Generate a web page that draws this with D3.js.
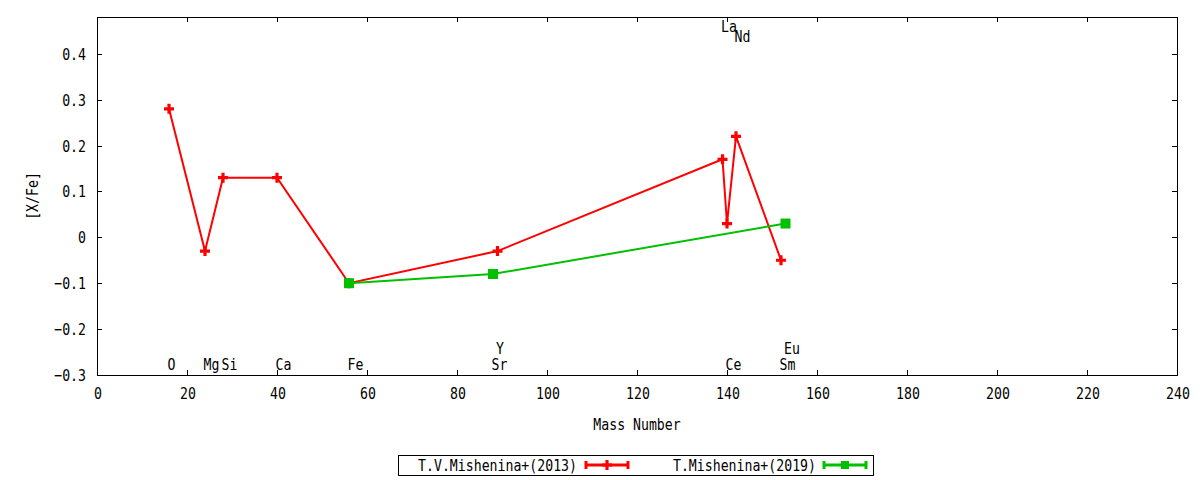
<!DOCTYPE html>
<html>
<head>
<meta charset="utf-8">
<script src="https://cdn.jsdelivr.net/npm/d3@7"></script>
<style>
  body { margin: 0; background: #fff; }
  svg { display: block; }
</style>
</head>
<body>
<div id="chart"></div>
<script>
// Mass numbers and [X/Fe] values, Mishenina+ (2013)
var elements2013 = ['O', 'Mg', 'Si', 'Ca', 'Fe', 'Y', 'La', 'Ce', 'Nd', 'Sm'];
var mass2013 = [16, 24, 28, 40, 56, 89, 139, 140, 142, 152];
var xfe2013 = [0.28, -0.03, 0.13, 0.13, -0.10, -0.03, 0.17, 0.03, 0.22, -0.05];

// Mishenina+ (2019)
var elements2019 = ['Fe', 'Sr', 'Eu'];
var mass2019 = [56, 88, 153];
var xfe2019 = [-0.10, -0.08, 0.03];

// element name labels (at their mass number)
var labelNames = ['O', 'Mg', 'Si', 'Ca', 'Fe', 'Sr', 'Y', 'La', 'Ce', 'Nd', 'Sm', 'Eu'];
var labelMass = [16, 24, 28, 40, 56, 88, 89, 139, 140, 142, 152, 153];
var labelY = [-0.275, -0.275, -0.275, -0.275, -0.275, -0.275, -0.242, 0.46, -0.275, 0.438, -0.275, -0.242];

var xTicks = [0, 20, 40, 60, 80, 100, 120, 140, 160, 180, 200, 220, 240];
var yTicks = [-0.3, -0.2, -0.1, 0, 0.1, 0.2, 0.3, 0.4];

var width = 1200, height = 480;
var margin = { left: 97, right: 23, top: 17, bottom: 105 };

var svg = d3.select('#chart').append('svg')
    .attr('width', width)
    .attr('height', height);

var x = d3.scaleLinear().domain([0, 240]).range([margin.left, width - margin.right]);
var y = d3.scaleLinear().domain([-0.3, 0.48]).range([height - margin.bottom, margin.top]);

var fontFamily = '"DejaVu Sans Mono", "Liberation Mono", monospace';

// gnuplot-like condensed mono text
function label(parent, px, py, str, anchor, rotate) {
    var g = parent.append('g')
        .attr('transform', 'translate(' + px + ',' + py + ')' + (rotate ? ' rotate(' + rotate + ')' : '') + ' scale(0.8,1)');
    g.append('text')
        .attr('text-anchor', anchor || 'start')
        .attr('font-family', fontFamily)
        .attr('font-size', '16.5px')
        .attr('fill', '#000')
        .text(str);
    return g;
}

// axes (ticks inward, mirrored)
var tickLen = 5;
var axes = svg.append('g').attr('stroke', '#000').attr('stroke-width', 1).attr('shape-rendering', 'crispEdges');
xTicks.forEach(function(t) {
    var px = Math.round(x(t)) + 0.5;
    axes.append('line').attr('x1', px).attr('x2', px).attr('y1', y.range()[0]).attr('y2', y.range()[0] - tickLen);
    axes.append('line').attr('x1', px).attr('x2', px).attr('y1', y.range()[1]).attr('y2', y.range()[1] + tickLen);
    label(svg, x(t) + 1, 399, d3.format('d')(t), 'middle');
});
yTicks.forEach(function(t) {
    var py = Math.round(y(t)) + 0.5;
    axes.append('line').attr('x1', x.range()[0]).attr('x2', x.range()[0] + tickLen).attr('y1', py).attr('y2', py);
    axes.append('line').attr('x1', x.range()[1]).attr('x2', x.range()[1] - tickLen).attr('y1', py).attr('y2', py);
    label(svg, 86, y(t) + 6, t === 0 ? '0' : d3.format('.1f')(t), 'end');
});
axes.append('rect')
    .attr('x', x.range()[0] + 0.5)
    .attr('y', y.range()[1] + 0.5)
    .attr('width', x.range()[1] - x.range()[0])
    .attr('height', y.range()[0] - y.range()[1])
    .attr('fill', 'none');

// axis titles
label(svg, (x.range()[0] + x.range()[1]) / 2, 430, 'Mass Number', 'middle');
label(svg, 38, (y.range()[0] + y.range()[1]) / 2, '[X/Fe]', 'middle', -90);

// element labels
labelNames.forEach(function(n, i) {
    label(svg, x(labelMass[i]) - 1.5, y(labelY[i]) + 6, n, 'start');
});

var colors = { s2013: '#ff0000', s2019: '#00c000' };

var line = d3.line()
    .x(function(d) { return x(d[0]); })
    .y(function(d) { return y(d[1]); });

var pts2013 = d3.zip(mass2013, xfe2013);
var pts2019 = d3.zip(mass2019, xfe2019);

svg.append('path').datum(pts2013)
    .attr('d', line).attr('fill', 'none')
    .attr('stroke', colors.s2013).attr('stroke-width', 2);
svg.append('path').datum(pts2019)
    .attr('d', line).attr('fill', 'none')
    .attr('stroke', colors.s2019).attr('stroke-width', 2);

function plus(parent, px, py, color) {
    parent.append('path')
        .attr('d', 'M' + (px - 5) + ',' + py + 'H' + (px + 5) + 'M' + px + ',' + (py - 5) + 'V' + (py + 5))
        .attr('stroke', color).attr('stroke-width', 3.2).attr('fill', 'none');
}
function square(parent, px, py, color, s) {
    parent.append('rect')
        .attr('x', px - s / 2).attr('y', py - s / 2)
        .attr('width', s).attr('height', s)
        .attr('fill', color);
}

pts2013.forEach(function(d) { plus(svg, x(d[0]), y(d[1]), colors.s2013); });
pts2019.forEach(function(d) { square(svg, x(d[0]), y(d[1]), colors.s2019, 10); });

// legend
var legend = svg.append('g');
legend.append('rect')
    .attr('x', 398.5).attr('y', 455.5).attr('width', 475).attr('height', 19.5)
    .attr('fill', 'none').attr('stroke', '#000').attr('stroke-width', 1)
    .attr('shape-rendering', 'crispEdges');

var legendItems = [
    { name: 'T.V.Mishenina+(2013)', color: colors.s2013, textX: 577, x0: 586, x1: 628, mark: 'plus' },
    { name: 'T.Mishenina+(2019)', color: colors.s2019, textX: 816, x0: 824, x1: 866, mark: 'square' }
];
legendItems.forEach(function(it) {
    var ly = 465;
    label(legend, it.textX, ly + 6, it.name, 'end');
    legend.append('line').attr('x1', it.x0).attr('x2', it.x1).attr('y1', ly).attr('y2', ly)
        .attr('stroke', it.color).attr('stroke-width', 3);
    [it.x0, it.x1].forEach(function(cx) {
        legend.append('line').attr('x1', cx).attr('x2', cx).attr('y1', ly - 4).attr('y2', ly + 4)
            .attr('stroke', it.color).attr('stroke-width', 3);
    });
    var mid = (it.x0 + it.x1) / 2;
    if (it.mark === 'plus') plus(legend, mid, ly, it.color);
    else square(legend, mid, ly, it.color, 8);
});
</script>
</body>
</html>
